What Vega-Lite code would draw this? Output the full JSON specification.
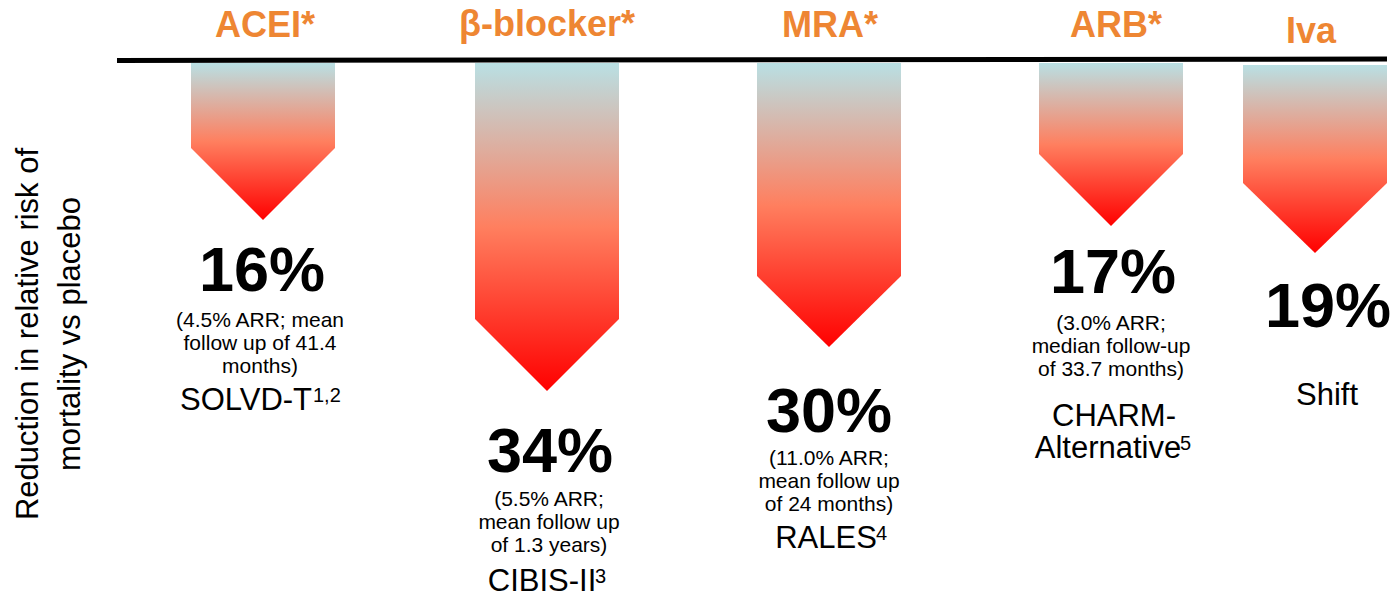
{
  "$schema": "https://vega.github.io/schema/vega-lite/v6.json",
  "width": 1400,
  "height": 597,
  "autosize": "none",
  "padding": 0,
  "background": "white",
  "config": {"view": {"stroke": null}, "text": {"font": "Liberation Sans"}},
  "encoding": {
    "x": {"field": "x", "type": "quantitative", "scale": {"domain": [0, 140], "nice": false, "zero": false}, "axis": null},
    "y": {"field": "y", "type": "quantitative", "scale": {"domain": [-6.2, 53.5], "nice": false, "zero": false, "reverse": true}, "axis": null}
  },
  "layer": [
    {
      "data": {"values": [{"x": 11.7, "x2": 138.7, "y": -0.15, "y2": -0.3}]},
      "mark": {"type": "rule", "color": "#000000", "strokeWidth": 5},
      "encoding": {"x2": {"field": "x2"}, "y2": {"field": "y2"}}
    },
    {
      "data": {"values": [
        {"drug": "ACEI", "x": 19.1, "y": 8.6, "y2": 0.1},
        {"drug": "ACEI", "x": 26.3, "y": 15.8, "y2": 0.1},
        {"drug": "ACEI", "x": 33.5, "y": 8.6, "y2": 0.1},
        {"drug": "BB", "x": 47.5, "y": 25.7, "y2": 0.1},
        {"drug": "BB", "x": 54.7, "y": 32.9, "y2": 0.1},
        {"drug": "BB", "x": 61.9, "y": 25.7, "y2": 0.1},
        {"drug": "MRA", "x": 75.7, "y": 21.4, "y2": 0.1},
        {"drug": "MRA", "x": 82.9, "y": 28.5, "y2": 0.1},
        {"drug": "MRA", "x": 90.1, "y": 21.4, "y2": 0.1},
        {"drug": "ARB", "x": 103.9, "y": 9.2, "y2": 0.1},
        {"drug": "ARB", "x": 111.1, "y": 16.4, "y2": 0.1},
        {"drug": "ARB", "x": 118.3, "y": 9.2, "y2": 0.1},
        {"drug": "Iva", "x": 124.3, "y": 12.1, "y2": 0.3},
        {"drug": "Iva", "x": 131.5, "y": 19.1, "y2": 0.3},
        {"drug": "Iva", "x": 138.7, "y": 12.1, "y2": 0.3}
      ]},
      "mark": {
        "type": "area",
        "orient": "vertical",
        "interpolate": "linear",
        "color": {
          "gradient": "linear", "x1": 0, "y1": 0, "x2": 0, "y2": 1,
          "stops": [
            {"offset": 0, "color": "#b9e0e4"},
            {"offset": 0.5, "color": "#ff7f5f"},
            {"offset": 1, "color": "#ff0000"}
          ]
        }
      },
      "encoding": {"y2": {"field": "y2"}, "detail": {"field": "drug"}}
    },
    {
      "data": {"values": [
        {"x": 26.5, "y": -2.5, "t": "ACEI*"},
        {"x": 54.7, "y": -2.6, "t": "β-blocker*"},
        {"x": 83.0, "y": -2.5, "t": "MRA*"},
        {"x": 111.6, "y": -2.5, "t": "ARB*"},
        {"x": 131.1, "y": -1.9, "t": "Iva"}
      ]},
      "mark": {"type": "text", "fontSize": 36, "fontWeight": "bold", "color": "#EE8633", "align": "center", "baseline": "alphabetic"},
      "encoding": {"text": {"field": "t"}}
    },
    {
      "data": {"values": [
        {"x": 26.2, "y": 22.9, "t": "16%"},
        {"x": 55.0, "y": 41.0, "t": "34%"},
        {"x": 82.9, "y": 37.0, "t": "30%"},
        {"x": 111.3, "y": 23.1, "t": "17%"},
        {"x": 132.8, "y": 26.5, "t": "19%"}
      ]},
      "mark": {"type": "text", "fontSize": 63, "fontWeight": "bold", "color": "#000000", "align": "center", "baseline": "alphabetic"},
      "encoding": {"text": {"field": "t"}}
    },
    {
      "data": {"values": [
        {"x": 26.0, "y": 26.5, "t": "(4.5% ARR; mean\nfollow up of 41.4\nmonths)"},
        {"x": 54.9, "y": 44.4, "t": "(5.5% ARR;\nmean follow up\nof 1.3 years)"},
        {"x": 82.9, "y": 40.3, "t": "(11.0% ARR;\nmean follow up\nof 24 months)"},
        {"x": 111.1, "y": 26.8, "t": "(3.0% ARR;\nmedian follow-up\nof 33.7 months)"}
      ]},
      "mark": {"type": "text", "fontSize": 21, "lineHeight": 23, "lineBreak": "\n", "color": "#000000", "align": "center", "baseline": "alphabetic"},
      "encoding": {"text": {"field": "t"}}
    },
    {
      "data": {"values": [
        {"x": 24.6, "y": 34.8, "t": "SOLVD-T"},
        {"x": 54.2, "y": 52.9, "t": "CIBIS-II"},
        {"x": 82.6, "y": 48.6, "t": "RALES"},
        {"x": 111.4, "y": 36.4, "t": "CHARM-"},
        {"x": 110.8, "y": 39.6, "t": "Alternative"},
        {"x": 132.7, "y": 34.3, "t": "Shift"}
      ]},
      "mark": {"type": "text", "fontSize": 31, "color": "#000000", "align": "center", "baseline": "alphabetic"},
      "encoding": {"text": {"field": "t"}}
    },
    {
      "data": {"values": [
        {"x": 31.3, "y": 34.0, "t": "1,2"},
        {"x": 59.5, "y": 52.1, "t": "3"},
        {"x": 87.6, "y": 47.8, "t": "4"},
        {"x": 118.0, "y": 38.8, "t": "5"}
      ]},
      "mark": {"type": "text", "fontSize": 20, "color": "#000000", "align": "left", "baseline": "alphabetic"},
      "encoding": {"text": {"field": "t"}}
    },
    {
      "data": {"values": [
        {"x": 3.75, "y": 27.2, "t": "Reduction in relative risk of"},
        {"x": 7.95, "y": 27.2, "t": "mortality vs placebo"}
      ]},
      "mark": {"type": "text", "fontSize": 31, "angle": 270, "color": "#000000", "align": "center", "baseline": "alphabetic"},
      "encoding": {"text": {"field": "t"}}
    }
  ]
}
